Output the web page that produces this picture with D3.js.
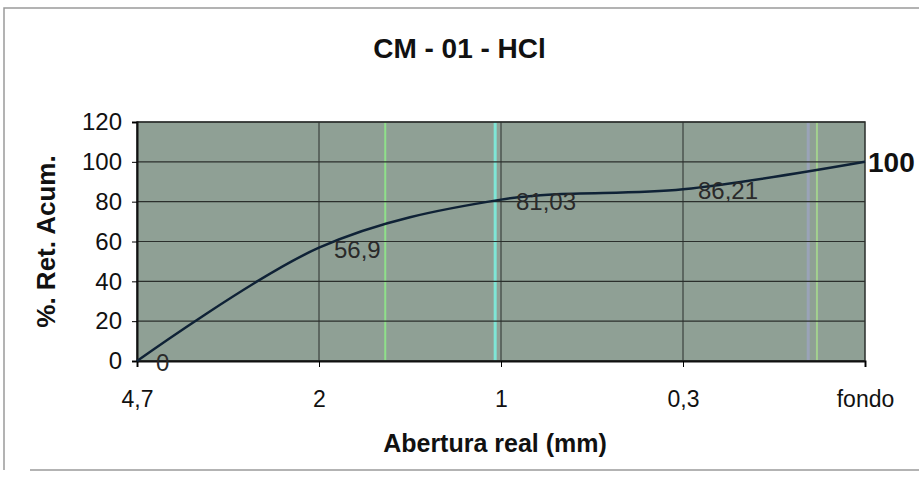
<!DOCTYPE html>
<html>
<head>
<meta charset="utf-8">
<script src="https://cdn.jsdelivr.net/npm/d3@7"></script>
<style>
  body { margin: 0; background: #fff; }
  svg { display: block; font-family: "Liberation Sans", Arial, sans-serif; }
</style>
</head>
<body>
<svg id="chart" width="919" height="483"></svg>
<script>
// data
const categories = ["4,7", "2", "1", "0,3", "fondo"];
const values = [0, 56.9, 81.03, 86.21, 100];
const valueLabels = ["0", "56,9", "81,03", "86,21", "100"];
const yTicks = [0, 20, 40, 60, 80, 100, 120];

const svg = d3.select("#chart");
const margin = {top: 122, right: 54, bottom: 122, left: 137};
const W = 919, H = 483;
const pw = W - margin.left - margin.right;
const ph = H - margin.top - margin.bottom;

// outer frame of the scanned sheet
svg.append("path")
  .attr("d", "M4,470 L4,8 L919,8 M30,470 L919,470")
  .attr("fill", "none")
  .attr("stroke", "#9a9a9a")
  .attr("stroke-width", 1.5);

const g = svg.append("g").attr("transform", `translate(${margin.left},${margin.top})`);

const x = d3.scalePoint().domain(categories).range([0, pw]);
const y = d3.scaleLinear().domain([0, 120]).range([ph, 0]);

// plot background
g.append("rect")
  .attr("width", pw).attr("height", ph)
  .attr("fill", "#8fa095");

// scanner streaks
[[0.341, "#8fe08a", 2], [0.492, "#7fe6d6", 3], [0.922, "#9aa3b8", 3], [0.934, "#a3d08f", 2]].forEach(s => {
  g.append("line")
    .attr("x1", pw * s[0]).attr("x2", pw * s[0])
    .attr("y1", 0).attr("y2", ph)
    .attr("stroke", s[1]).attr("stroke-width", s[2]);
});

// horizontal gridlines
g.append("g")
  .selectAll("line")
  .data(yTicks)
  .enter().append("line")
  .attr("x1", 0).attr("x2", pw)
  .attr("y1", d => y(d)).attr("y2", d => y(d))
  .attr("stroke", "#2b2f2c")
  .attr("stroke-width", 1.2);

// vertical gridlines
g.append("g")
  .selectAll("line")
  .data(categories.slice(1, -1))
  .enter().append("line")
  .attr("x1", d => x(d)).attr("x2", d => x(d))
  .attr("y1", 0).attr("y2", ph)
  .attr("stroke", "#2b2f2c")
  .attr("stroke-width", 1);

// plot border
g.append("rect")
  .attr("width", pw).attr("height", ph)
  .attr("fill", "none")
  .attr("stroke", "#2b2f2c")
  .attr("stroke-width", 1.5);

// axes
const yAxis = d3.axisLeft(y).tickValues(yTicks).tickSize(5).tickPadding(10);
g.append("g").call(yAxis)
  .call(a => a.select(".domain").attr("stroke", "#111").attr("stroke-width", 2))
  .call(a => a.selectAll("text").attr("font-size", 24).attr("fill", "#111"));

const xAxis = d3.axisBottom(x).tickSize(6).tickPadding(24);
g.append("g").attr("transform", `translate(0,${ph})`).call(xAxis)
  .call(a => a.select(".domain").attr("stroke", "#111").attr("stroke-width", 2))
  .call(a => a.selectAll("text").attr("font-size", 23).attr("fill", "#111"));

// smoothed curve
const line = d3.line()
  .x((d, i) => x(categories[i]))
  .y(d => y(d))
  .curve(d3.curveCardinal.tension(0));

g.append("path")
  .datum(values)
  .attr("d", line)
  .attr("fill", "none")
  .attr("stroke", "#0f2236")
  .attr("stroke-width", 2.5);

// data labels
const last = values.length - 1;
g.append("g")
  .selectAll("text")
  .data(values)
  .enter().append("text")
  .attr("x", (d, i) => x(categories[i]) + (i === 0 ? 19 : i === last ? 3 : 15))
  .attr("y", d => y(d) + 10)
  .attr("font-size", (d, i) => i === last ? 28 : 24)
  .attr("font-weight", (d, i) => i === last ? "bold" : "normal")
  .attr("fill", (d, i) => i === last ? "#111" : "#2a2a2a")
  .text((d, i) => valueLabels[i]);

// titles
svg.append("text")
  .attr("x", W / 2).attr("y", 58)
  .attr("text-anchor", "middle")
  .attr("font-size", 28).attr("font-weight", "bold").attr("fill", "#111")
  .text("CM - 01 - HCl");

svg.append("text")
  .attr("x", margin.left + pw / 2 - 6).attr("y", 452)
  .attr("text-anchor", "middle")
  .attr("font-size", 25).attr("font-weight", "bold").attr("fill", "#111")
  .text("Abertura real (mm)");

svg.append("text")
  .attr("transform", `translate(55,${margin.top + ph / 2}) rotate(-90)`)
  .attr("text-anchor", "middle")
  .attr("font-size", 26).attr("font-weight", "bold").attr("fill", "#111")
  .text("%. Ret. Acum.");
</script>
</body>
</html>
